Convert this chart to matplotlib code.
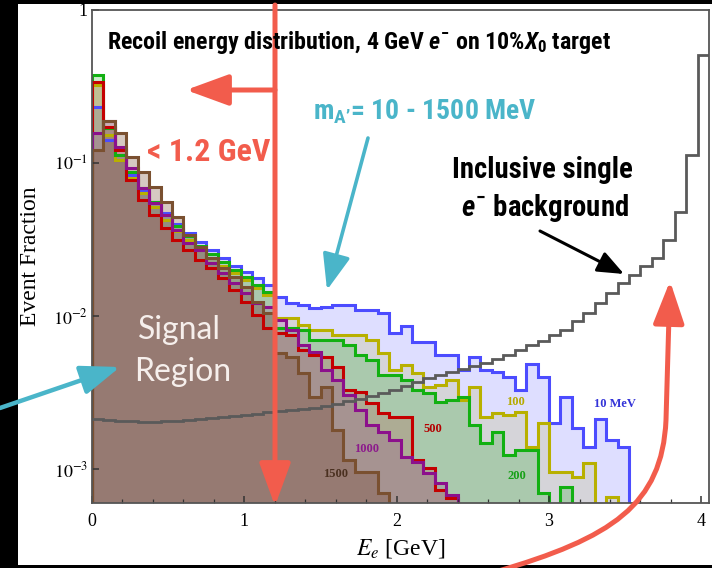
import numpy as np
import matplotlib as mpl
mpl.use('Agg')
import matplotlib.pyplot as plt
from matplotlib import font_manager as fm
from matplotlib.patches import FancyArrowPatch, Rectangle
from matplotlib.path import Path
from matplotlib.ticker import MultipleLocator, NullLocator

## data: event fraction per 0.075 GeV bin, starting at E = 0
bin_width = 0.075

frac_10 = [0.232, 0.141, 0.105, 0.0835, 0.0667, 0.0556, 0.0471, 0.0399, 0.0349, 0.0305,
           0.0270, 0.0239, 0.0212, 0.0194, 0.0177, 0.0160, 0.0133, 0.0122, 0.0118, 0.0113,
           0.0115, 0.0118, 0.0118, 0.0109, 0.0109, 0.0105, 7.74e-3, 8.60e-3, 6.76e-3, 6.76e-3,
           5.56e-3, 5.56e-3, 4.44e-3, 5.40e-3, 4.44e-3, 4.31e-3, 3.99e-3, 3.28e-3, 4.85e-3, 3.99e-3,
           2.0e-3, 2.96e-3, 1.85e-3, 1.39e-3, 2.12e-3, 1.55e-3, 1.39e-3]
frac_100 = [0.324, 0.152, 0.105, 0.0798, 0.0637, 0.0516, 0.0424, 0.0360, 0.0314, 0.0270,
            0.0239, 0.0212, 0.0191, 0.0172, 0.0152, 0.0137, 9.70e-3, 9.70e-3, 8.73e-3, 8.10e-3,
            8.10e-3, 7.52e-3, 7.52e-3, 7.52e-3, 6.97e-3, 5.73e-3, 4.44e-3, 4.78e-3, 4.24e-3, 3.43e-3,
            3.54e-3, 3.82e-3, 2.82e-3, 3.43e-3, 2.19e-3, 2.32e-3, 2.25e-3, 2.36e-3, 1.39e-3, 2.0e-3,
            9.55e-4, 9.55e-4, 8.87e-4, 1.09e-3, 0, 6.56e-4]
frac_200 = [0.376, 0.169, 0.113, 0.0873, 0.0687, 0.0556, 0.0457, 0.0387, 0.0333, 0.0287,
            0.0254, 0.0225, 0.0200, 0.0180, 0.0160, 0.0144, 8.35e-3, 8.35e-3, 8.10e-3, 6.97e-3,
            6.97e-3, 6.97e-3, 6.46e-3, 5.56e-3, 5.16e-3, 4.12e-3, 4.12e-3, 3.82e-3, 3.28e-3, 3.14e-3,
            2.74e-3, 2.82e-3, 2.96e-3, 1.94e-3, 1.48e-3, 1.75e-3, 1.24e-3, 1.33e-3, 1.33e-3, 6.97e-4,
            0, 7.62e-4]
frac_500 = [0.338, 0.172, 0.122, 0.0774, 0.0573, 0.0457, 0.0376, 0.0314, 0.0270, 0.0232,
            0.0206, 0.0177, 0.0148, 0.0124, 0.0102, 8.35e-3, 7.74e-3, 7.52e-3, 6.0e-3, 5.56e-3,
            5.40e-3, 4.64e-3, 3.28e-3, 3.18e-3, 2.70e-3, 2.32e-3, 2.19e-3, 2.19e-3, 1.15e-3, 1.02e-3,
            7.29e-4, 6.46e-4]
frac_1000 = [0.157, 0.188, 0.127, 0.0927, 0.0687, 0.0548, 0.0457, 0.0365, 0.0300, 0.0270,
             0.0222, 0.0191, 0.0164, 0.0141, 0.0122, 0.0115, 9.41e-3, 8.10e-3, 6.46e-3, 5.82e-3,
             4.44e-3, 3.82e-3, 3.05e-3, 2.43e-3, 1.94e-3, 1.75e-3, 1.55e-3, 1.20e-3, 1.11e-3, 9.42e-4,
             8.10e-4, 6.76e-4]
frac_1500 = [0.122, 0.188, 0.157, 0.109, 0.0873, 0.0697, 0.0556, 0.0444, 0.0338, 0.0282,
             0.0239, 0.0206, 0.0180, 0.0155, 0.0124, 0.0105, 5.73e-3, 5.40e-3, 4.24e-3, 2.96e-3,
             3.43e-3, 1.80e-3, 1.15e-3, 9.55e-4, 9.55e-4, 6.97e-4]
# inclusive single electron background
frac_bkg = [2.12e-3, 2.09e-3, 2.06e-3, 2.06e-3, 2.03e-3, 2.03e-3, 2.06e-3, 2.06e-3, 2.09e-3, 2.12e-3,
            2.15e-3, 2.19e-3, 2.22e-3, 2.25e-3, 2.29e-3, 2.36e-3, 2.39e-3, 2.43e-3, 2.47e-3, 2.50e-3,
            2.58e-3, 2.66e-3, 2.78e-3, 2.87e-3, 3.0e-3, 3.14e-3, 3.28e-3, 3.49e-3, 3.70e-3, 3.94e-3,
            4.12e-3, 4.31e-3, 4.51e-3, 4.71e-3, 4.93e-3, 5.24e-3, 5.56e-3, 6.0e-3, 6.46e-3, 6.87e-3,
            7.52e-3, 8.1e-3, 9.27e-3, 1.05e-2, 1.22e-2, 1.41e-2, 1.64e-2, 1.85e-2, 2.12e-2, 2.39e-2,
            3.14e-2, 4.78e-2, 0.113, 0.508]

mass_labels = ['10 MeV', '100', '200', '500', '1000', '1500']
# where the mass labels sit (GeV, event fraction)
label_E = [3.43, 2.78, 2.79, 2.24, 1.80, 1.60]
label_frac = [2.66e-3, 2.74e-3, 9.0e-4, 1.83e-3, 1.35e-3, 9.3e-4]

## fonts
names = {f.name for f in fm.fontManager.ttflist}
cond = 'DejaVu Sans'
for n in ['Ubuntu Condensed', 'Roboto Condensed', 'Open Sans Condensed', 'Liberation Sans Narrow', 'Roboto']:
    if n in names:
        cond = n
        break
serif = 'Liberation Serif'
light = 'Lato' if 'Lato' in names else 'DejaVu Sans'
mpl.rcParams['mathtext.fontset'] = 'custom'
mpl.rcParams['mathtext.rm'] = cond + ':bold'
mpl.rcParams['mathtext.bf'] = cond + ':bold'
mpl.rcParams['mathtext.it'] = cond + ':italic:bold'

W, H = 712, 568
fig = plt.figure(figsize=(W / 100, H / 100), dpi=100)
fig.patch.set_facecolor('black')


def fx(x, y):
    # pixel position (from top left) -> figure fraction
    return (x / W, 1 - y / H)


fig.add_artist(Rectangle(fx(18, 565), (W - 18) / W, (565 - 4) / H, transform=fig.transFigure,
                         facecolor='white', edgecolor='none', zorder=-1))

ax = fig.add_axes([92 / W, 1 - 503 / H, 617 / W, 493 / H])

hists = [frac_10, frac_100, frac_200, frac_500, frac_1000, frac_1500]
line_cols = ['#4c4cff', '#b8b000', '#12b012', '#c40000', '#8c108c', '#7a5030']
fill_cols = ['#0000ff', '#a8a000', '#00a000', '#c00000', '#800080', '#6b3a20']
fill_alpha = [0.13, 0.15, 0.2, 0.14, 0.14, 0.27]

for vals, fc, a in zip(hists, fill_cols, fill_alpha):
    v = np.maximum(np.array(vals, dtype=float), 1e-6)
    edges = np.arange(len(v) + 1) * bin_width
    ax.stairs(v, edges, baseline=1e-6, fill=True, color=fc, alpha=a, lw=0)
for vals, lc in zip(hists, line_cols):
    v = np.maximum(np.array(vals, dtype=float), 1e-6)
    edges = np.arange(len(v) + 1) * bin_width
    ax.stairs(v, edges, baseline=1e-6, color=lc, lw=2.2)

edges = np.arange(len(frac_bkg) + 1) * bin_width
ax.stairs(frac_bkg, edges, baseline=None, color='#5a5a5a', lw=2.0)

ax.set_yscale('log')
ax.set_xlim(0, 4.05)
ax.set_ylim(6e-4, 1)
ax.set_xticks([0, 1, 2, 3, 4])
ax.set_xticklabels(['0', '1', '2', '3', '4'], fontfamily=serif, fontsize=13)
ax.xaxis.set_minor_locator(MultipleLocator(0.2))
ax.set_yticks([1e-3, 1e-2, 1e-1, 1])
ax.set_yticklabels(['$10^{-3}$', '$10^{-2}$', '$10^{-1}$', '1'], fontfamily=serif, fontsize=13,
                   math_fontfamily='stix')
ax.yaxis.set_minor_locator(NullLocator())
ax.tick_params(which='both', direction='in', top=False, right=False, color='#333333')
ax.tick_params(which='major', length=5, width=1.1)
ax.tick_params(which='minor', length=3, width=0.9)
ax.tick_params(axis='x', pad=7)
ax.tick_params(axis='y', pad=3)
for s in ax.spines.values():
    s.set_color('#555555')
    s.set_linewidth(1.3)

ax.set_xlabel('$E_e$ [GeV]', fontfamily=serif, fontsize=17, math_fontfamily='stix')
ax.xaxis.set_label_coords(0.5, -(537 - 503) / 493)
ax.set_ylabel('Event Fraction', fontfamily=serif, fontsize=17, va='center')
ax.yaxis.set_label_coords(-(92 - 30) / 617, 0.5)

lab_cols = ['#3434d8', '#b5aa00', '#16a016', '#b40000', '#8c1a8c', '#4a3020']
for t, x, y, c in zip(mass_labels, label_E, label_frac, lab_cols):
    ax.text(x, y, t, color=c, fontsize=9, fontweight='bold', fontfamily=serif, ha='center', va='center')

## annotations
red = '#f25c4c'
teal = '#4ab5c9'
bold = dict(fontfamily=cond, fontweight='bold', fontstretch='condensed', math_fontfamily='custom')

fig.text(*fx(107, 42), 'Recoil energy distribution, 4 GeV $e^{-}$ on 10%$X_{\\mathit{0}}$ target',
         fontsize=17.3, ha='left', va='center', **bold)
fig.text(*fx(313, 112), '$\\mathrm{m}_{\\mathrm{A\u2019}}$= 10 - 1500 MeV', color=teal,
         fontsize=20, ha='left', va='center', **bold)
fig.text(*fx(147, 152), '< 1.2 GeV', color=red, fontsize=23, ha='left', va='center', **bold)
fig.text(*fx(542, 170), 'Inclusive single', fontsize=20.7, ha='center', va='center', **bold)
fig.text(*fx(545, 208), '$e^{-}$ background', fontsize=20.7, ha='center', va='center', **bold)
fig.text(*fx(179, 330), 'Signal', color='#f6efec', fontfamily=light, fontweight='normal',
         fontsize=23, ha='center', va='center')
fig.text(*fx(183, 372), 'Region', color='#f6efec', fontfamily=light, fontweight='normal',
         fontsize=23, ha='center', va='center')


def arrow(p0, p1, color, lw, hl, hw, path=None):
    style = '-|>,head_length=%g,head_width=%g' % (hl, hw)
    if path is None:
        a = FancyArrowPatch(fx(*p0), fx(*p1), arrowstyle=style, color=color, lw=lw,
                            mutation_scale=1, shrinkA=0, shrinkB=0, transform=fig.transFigure)
    else:
        a = FancyArrowPatch(path=path, arrowstyle=style, color=color, lw=lw,
                            mutation_scale=1, transform=fig.transFigure)
    fig.add_artist(a)


# energy cut line and arrows
arrow((275, 5), (275, 506), red, 3.6, 26, 9.5)
arrow((275, 90), (186, 90), red, 3.6, 26, 9.5)
arrow((368, 138), (327, 290), teal, 2.6, 22, 8.5)
arrow((0, 408), (120, 367), teal, 3.2, 24, 9)
arrow((540, 231), (624, 274), 'black', 2.2, 16, 6.5)
curve = Path([fx(495, 572), fx(612, 538), fx(662, 505), fx(666, 420), fx(670, 281)],
             [Path.MOVETO, Path.CURVE4, Path.CURVE4, Path.CURVE4, Path.LINETO])
arrow(None, None, red, 3.6, 26, 9.5, path=curve)

fig.savefig('out.png', dpi=100, facecolor=fig.get_facecolor())
